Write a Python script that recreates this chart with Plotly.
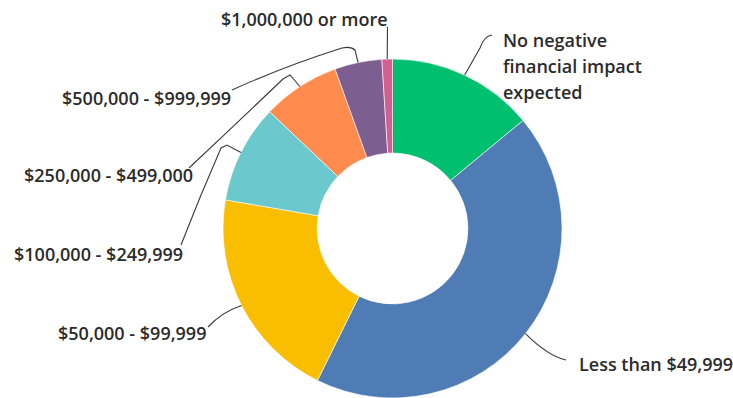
import math
import plotly.graph_objects as go

# Expected financial impact categories (clockwise from 12 o'clock)
categories = [
    "No negative financial impact expected",
    "Less than $49,999",
    "$50,000 - $99,999",
    "$100,000 - $249,999",
    "$250,000 - $499,000",
    "$500,000 - $999,999",
    "$1,000,000 or more",
]
shares = [14.0, 43.3, 20.4, 9.4, 7.4, 4.5, 1.0]
colors = ["#00BF6F", "#507CB6", "#F9BE00", "#6BC8CD", "#FF8B4F", "#7D5E90", "#D25F90"]

W, H = 733, 398
CX, CY, R = 392.5, 228.5, 169.5  # donut centre and outer radius, pixels
TEXT = "#2B2B2B"
FONT = "Open Sans"
FS = 18

fig = go.Figure()
fig.add_trace(go.Pie(
    labels=categories,
    values=shares,
    sort=False,
    direction="clockwise",
    rotation=0,
    hole=0.445,
    textinfo="none",
    hoverinfo="label+percent",
    marker=dict(colors=colors, line=dict(color="white", width=0.6)),
    domain=dict(x=[(CX - R) / W, (CX + R) / W], y=[0, 2 * R / H]),
    showlegend=False,
))

# slice mid-angle anchor points on the outer edge
total = sum(shares)
anchors = []
acc = 0.0
for v in shares:
    mid = (acc + v / 2) / total * 2 * math.pi
    anchors.append((CX + R * math.sin(mid), CY - R * math.cos(mid)))
    acc += v

# leader-line routes after leaving each slice: list of (cmd, points)
routes = [
    [("L", [(480, 48)]), ("Q", [(484, 36), (492, 35)])],
    [("Q", [(548, 356), (566, 360)])],
    [("Q", [(222, 312), (208, 327)])],
    [("L", [(227, 145)]), ("L", [(221, 148)]), ("Q", [(200, 196), (181, 245)])],
    [("L", [(290, 75)]), ("L", [(283, 79)]), ("Q", [(238, 122), (189, 168)])],
    [("L", [(355, 50)]), ("Q", [(351, 46), (342, 48)]), ("Q", [(285, 66), (232, 90)])],
    [("L", [(387.5, 27)])],
]

for (ax, ay), segs in zip(anchors, routes):
    d = f"M {ax:.1f},{ay:.1f}"
    for cmd, pts in segs:
        d += " " + cmd + " " + " ".join(f"{x},{y}" for x, y in pts)
    fig.add_shape(type="path", path=d, xref="x", yref="y",
                  line=dict(color="#3A3A3A", width=1.1), layer="above")

# label text placement: (lines, x, first-line y, anchor)
labels = [
    (["No negative", "financial impact", "expected"], 501, 40, "left"),
    (["Less than $49,999"], 577, 364, "left"),
    (["$50,000 - $99,999"], 208, 333, "right"),
    (["$100,000 - $249,999"], 185, 254, "right"),
    (["$250,000 - $499,000"], 195, 175, "right"),
    (["$500,000 - $999,999"], 233, 98, "right"),
    (["$1,000,000 or more"], 390, 19, "right"),
]
for lines, x, y, anchor in labels:
    for i, line in enumerate(lines):
        fig.add_annotation(x=x, y=y + i * 26, xref="x", yref="y", text=line,
                           showarrow=False, xanchor=anchor, yanchor="middle",
                           font=dict(family=FONT, size=FS, color=TEXT, weight=600))

fig.update_xaxes(range=[0, W], visible=False, fixedrange=True)
fig.update_yaxes(range=[H, 0], visible=False, fixedrange=True)
fig.update_layout(
    width=W, height=H,
    margin=dict(l=0, r=0, t=0, b=0),
    paper_bgcolor="white", plot_bgcolor="white",
)
fig.write_html("out.html")
